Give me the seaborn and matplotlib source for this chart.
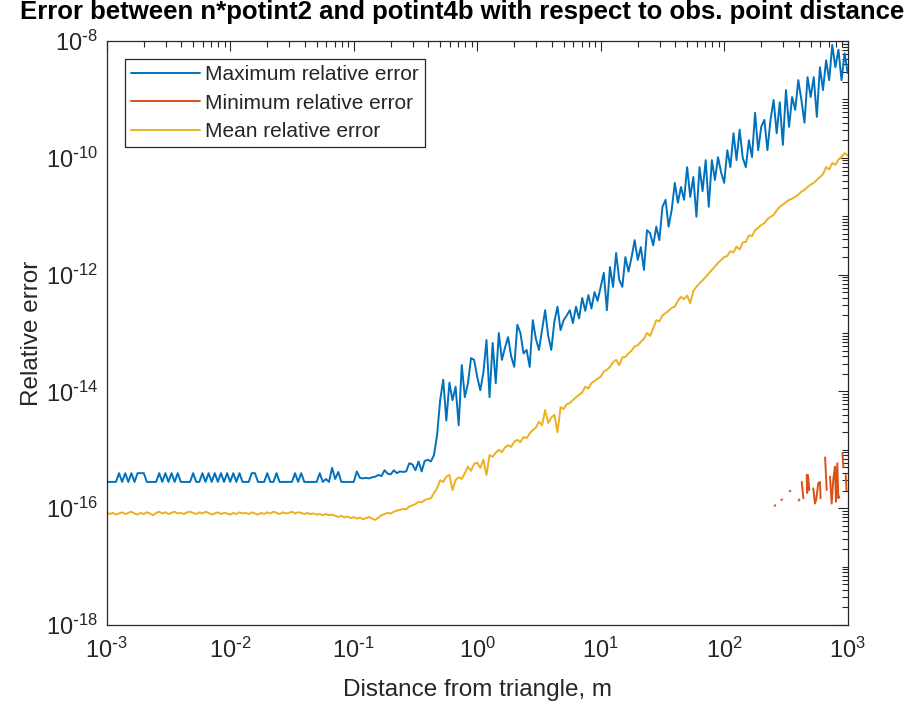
import numpy as np
import pandas as pd
import matplotlib
matplotlib.use("Agg")
import matplotlib.pyplot as plt
import seaborn as sns
from matplotlib.lines import Line2D
from matplotlib.ticker import FixedLocator, NullFormatter, FuncFormatter

# Observation point distances (m), log-spaced sweep from 1 mm to 1 km
dist = np.logspace(-3, 3, 241)

# log10 of the maximum relative error at each distance
max_err_log10 = [
    -15.55, -15.55, -15.55, -15.55, -15.40, -15.55, -15.40, -15.55, -15.40, -15.55,
    -15.40, -15.40, -15.40, -15.55, -15.55, -15.55, -15.55, -15.40, -15.55, -15.40,
    -15.55, -15.40, -15.55, -15.40, -15.55, -15.55, -15.55, -15.55, -15.40, -15.55,
    -15.55, -15.40, -15.55, -15.40, -15.55, -15.40, -15.55, -15.40, -15.55, -15.40,
    -15.55, -15.40, -15.55, -15.40, -15.55, -15.55, -15.55, -15.40, -15.40, -15.55,
    -15.55, -15.55, -15.40, -15.55, -15.55, -15.40, -15.55, -15.55, -15.55, -15.55,
    -15.55, -15.40, -15.55, -15.40, -15.55, -15.55, -15.55, -15.55, -15.55, -15.40,
    -15.55, -15.50, -15.55, -15.31, -15.50, -15.38, -15.55, -15.55, -15.55, -15.55,
    -15.55, -15.37, -15.48, -15.49, -15.48, -15.49, -15.47, -15.46, -15.43, -15.45,
    -15.35, -15.41, -15.42, -15.35, -15.40, -15.37, -15.38, -15.37, -15.23, -15.25,
    -15.35, -15.20, -15.37, -15.19, -15.17, -15.20, -15.09, -14.75, -14.15, -13.80,
    -14.50, -13.85, -14.15, -13.92, -14.58, -13.55, -14.10, -13.86, -13.43, -13.46,
    -13.75, -13.98, -13.68, -13.12, -14.10, -13.17, -13.86, -13.00, -13.46, -13.25,
    -13.07, -13.40, -13.58, -12.86, -13.00, -13.35, -13.29, -13.58, -12.78, -13.10,
    -13.29, -12.95, -12.61, -13.05, -13.29, -12.80, -12.55, -12.95, -12.78, -12.70,
    -12.61, -12.83, -12.55, -12.75, -12.40, -12.62, -12.35, -12.58, -12.30, -12.45,
    -12.21, -11.97, -12.61, -11.87, -12.21, -11.63, -12.09, -12.21, -11.70, -11.95,
    -11.70, -11.41, -11.75, -11.53, -11.92, -11.24, -11.29, -11.50, -11.18, -11.41,
    -10.84, -10.72, -11.18, -10.89, -10.43, -10.77, -10.50, -10.72, -10.16, -10.67,
    -10.33, -11.01, -10.16, -10.57, -10.04, -10.84, -10.04, -10.38, -9.99, -10.25,
    -10.43, -9.87, -10.16, -9.58, -10.04, -9.52, -10.00, -10.16, -9.70, -9.99,
    -9.23, -9.87, -9.47, -9.35, -9.87, -9.35, -9.01, -9.58, -9.05, -9.78,
    -8.84, -9.47, -8.96, -9.18, -8.67, -9.01, -9.40, -8.62, -8.96, -8.62,
    -9.30, -8.45, -8.84, -8.33, -8.67, -8.07, -8.45, -8.15, -8.67, -8.21,
    -8.55,
]

# log10 of the mean relative error at each distance
mean_err_log10 = [
    -16.07, -16.10, -16.08, -16.11, -16.09, -16.07, -16.10, -16.08, -16.06, -16.09,
    -16.11, -16.08, -16.10, -16.07, -16.09, -16.12, -16.08, -16.06, -16.09, -16.07,
    -16.10, -16.08, -16.06, -16.09, -16.08, -16.10, -16.07, -16.06, -16.08, -16.10,
    -16.07, -16.09, -16.06, -16.08, -16.11, -16.09, -16.07, -16.10, -16.08, -16.09,
    -16.11, -16.08, -16.10, -16.07, -16.09, -16.08, -16.10, -16.07, -16.09, -16.11,
    -16.08, -16.10, -16.07, -16.09, -16.06, -16.08, -16.10, -16.07, -16.09, -16.08,
    -16.06, -16.09, -16.07, -16.08, -16.10, -16.08, -16.10, -16.09, -16.11, -16.10,
    -16.12, -16.10, -16.12, -16.11, -16.13, -16.15, -16.13, -16.16, -16.14, -16.17,
    -16.15, -16.18, -16.16, -16.19, -16.17, -16.15, -16.18, -16.20, -16.16, -16.12,
    -16.10, -16.08, -16.09, -16.06, -16.04, -16.03, -16.01, -16.02, -15.97, -15.95,
    -15.93, -15.89, -15.90, -15.86, -15.84, -15.83, -15.74, -15.66, -15.52, -15.55,
    -15.46, -15.43, -15.69, -15.52, -15.47, -15.50, -15.40, -15.29, -15.36, -15.24,
    -15.22, -15.31, -15.17, -15.43, -15.09, -15.12, -15.05, -15.00, -15.04, -14.96,
    -14.92, -14.95, -14.86, -14.83, -14.87, -14.78, -14.80, -14.72, -14.66, -14.62,
    -14.52, -14.58, -14.32, -14.54, -14.45, -14.40, -14.70, -14.27, -14.30, -14.22,
    -14.20, -14.15, -14.10, -14.06, -14.02, -13.92, -13.95, -13.86, -13.82, -13.78,
    -13.75, -13.66, -13.63, -13.58, -13.50, -13.46, -13.55, -13.42, -13.41, -13.35,
    -13.30, -13.23, -13.21, -13.15, -13.10, -13.00, -13.05, -12.92, -12.78, -12.80,
    -12.70, -12.66, -12.62, -12.57, -12.55, -12.45, -12.38, -12.42, -12.36, -12.49,
    -12.28, -12.21, -12.15, -12.10, -12.04, -11.98, -11.92, -11.86, -11.80, -11.75,
    -11.70, -11.68, -11.60, -11.62, -11.52, -11.57, -11.45, -11.44, -11.33, -11.34,
    -11.24, -11.20, -11.15, -11.12, -11.05, -11.01, -10.98, -10.90, -10.84, -10.80,
    -10.76, -10.72, -10.70, -10.67, -10.63, -10.58, -10.55, -10.50, -10.46, -10.43,
    -10.38, -10.33, -10.28, -10.16, -10.20, -10.09, -10.12, -10.03, -9.99, -9.92,
    -9.96,
]

# Minimum relative error is exactly zero almost everywhere; only these
# separate stretches (log10 distance, log10 error) are non-zero.
min_err_segments = [
    ([2.408, 2.414], [-15.96, -15.95]),
    ([2.463, 2.469], [-15.86, -15.85]),
    ([2.530, 2.536], [-15.71, -15.70]),
    ([2.603, 2.609], [-15.87, -15.85]),
    ([2.628, 2.641], [-15.55, -15.83]),
    ([2.668, 2.672, 2.678, 2.689], [-15.43, -15.74, -15.43, -15.69]),
    ([2.721, 2.735, 2.745, 2.762, 2.776, 2.780],
     [-15.66, -15.92, -15.85, -15.57, -15.55, -15.83]),
    ([2.817, 2.830], [-15.13, -15.69]),
    ([2.857, 2.870, 2.884, 2.897, 2.905, 2.916, 2.924, 2.932],
     [-15.46, -15.92, -15.49, -15.29, -15.89, -15.23, -15.83, -15.80]),
    ([2.957, 2.965], [-15.06, -15.30]),
    ([2.984, 2.990], [-15.43, -15.69]),
]

series_labels = ["Maximum relative error", "Minimum relative error",
                 "Mean relative error"]
x_decades = [-3, -2, -1, 0, 1, 2, 3]
y_label_decades = [-18, -16, -14, -12, -10, -8]

BLUE, ORANGE, YELLOW = "#0072BD", "#D95319", "#EDB120"
INK = "#262626"

sns.set_theme(style="white")
plt.rcParams["font.family"] = ["Liberation Sans", "DejaVu Sans"]
plt.rcParams["mathtext.default"] = "regular"
plt.rcParams["axes.unicode_minus"] = False
for key in ("text.color", "axes.labelcolor", "xtick.color", "ytick.color"):
    plt.rcParams[key] = INK

df = pd.DataFrame({
    "dist": dist,
    "max_err": 10.0 ** np.array(max_err_log10),
    "mean_err": 10.0 ** np.array(mean_err_log10),
})
rows = []
for k, (xs, ys) in enumerate(min_err_segments):
    for xv, yv in zip(xs, ys):
        rows.append({"dist": 10.0 ** xv, "min_err": 10.0 ** yv, "seg": k})
df_min = pd.DataFrame(rows)

fig = plt.figure(figsize=(9.12, 7.04), dpi=100)
ax = fig.add_axes([0.117, 0.1122, 0.8125, 0.8296])
ax.set_xscale("log")
ax.set_yscale("log")

lw = 1.4
sns.lineplot(data=df, x="dist", y="max_err", color=BLUE, lw=lw,
             estimator=None, errorbar=None, ax=ax)
sns.lineplot(data=df_min, x="dist", y="min_err", units="seg", color=ORANGE,
             lw=lw, estimator=None, errorbar=None, sort=False, ax=ax)
sns.lineplot(data=df, x="dist", y="mean_err", color=YELLOW, lw=lw,
             estimator=None, errorbar=None, ax=ax)

ax.set_xlim(1e-3, 1e3)
ax.set_ylim(1e-18, 1e-8)


def pow10_label(value, _pos):
    """Power-of-ten tick label with a plain hyphen in the exponent."""
    exp = int(round(np.log10(value)))
    sign = r"\text{-}" if exp < 0 else ""
    return r"$\mathdefault{10^{%s%d}}$" % (sign, abs(exp))


def minor_positions(lo, hi, subs):
    """Minor tick positions d*10^k for each decade between lo and hi."""
    return [s * 10.0 ** k for k in range(lo, hi) for s in subs]


ax.xaxis.set_major_locator(FixedLocator([10.0 ** d for d in x_decades]))
ax.xaxis.set_major_formatter(FuncFormatter(pow10_label))
ax.xaxis.set_minor_locator(FixedLocator(minor_positions(-3, 3, range(2, 10))))
ax.xaxis.set_minor_formatter(NullFormatter())
ax.yaxis.set_major_locator(FixedLocator([10.0 ** d for d in y_label_decades]))
ax.yaxis.set_major_formatter(FuncFormatter(pow10_label))
ax.yaxis.set_minor_locator(FixedLocator(minor_positions(-18, -8, range(1, 10))))
ax.yaxis.set_minor_formatter(NullFormatter())

ax.tick_params(which="both", direction="in", top=True, right=True,
               width=0.8, color=INK)
ax.tick_params(which="major", length=7, labelsize=17)
ax.tick_params(axis="x", which="major", pad=9)
ax.tick_params(axis="y", which="major", pad=6)
ax.tick_params(which="minor", length=4)
for s in ax.spines.values():
    s.set_color(INK)
    s.set_linewidth(0.9)

ax.set_xlabel("Distance from triangle, m", fontsize=17.5, labelpad=12)
ax.set_ylabel("Relative error", fontsize=17.5, labelpad=2)
fig.text(462 / 912, 1 - 12 / 704,
         "Error between n*potint2 and potint4b with respect to obs. point distance",
         ha="center", va="center", fontsize=18.5, fontweight="bold", color="black")

handles = [Line2D([0], [0], color=c, lw=lw) for c in (BLUE, ORANGE, YELLOW)]
leg = ax.legend(handles, series_labels, loc="upper left",
                bbox_to_anchor=(0.0247, 0.969), borderaxespad=0, fontsize=15,
                frameon=True, fancybox=False, edgecolor=INK, framealpha=1,
                handlelength=3.3, handletextpad=0.25, labelspacing=0.45,
                borderpad=0.3)
leg.get_frame().set_linewidth(0.9)

fig.savefig("out.png", dpi=100)
